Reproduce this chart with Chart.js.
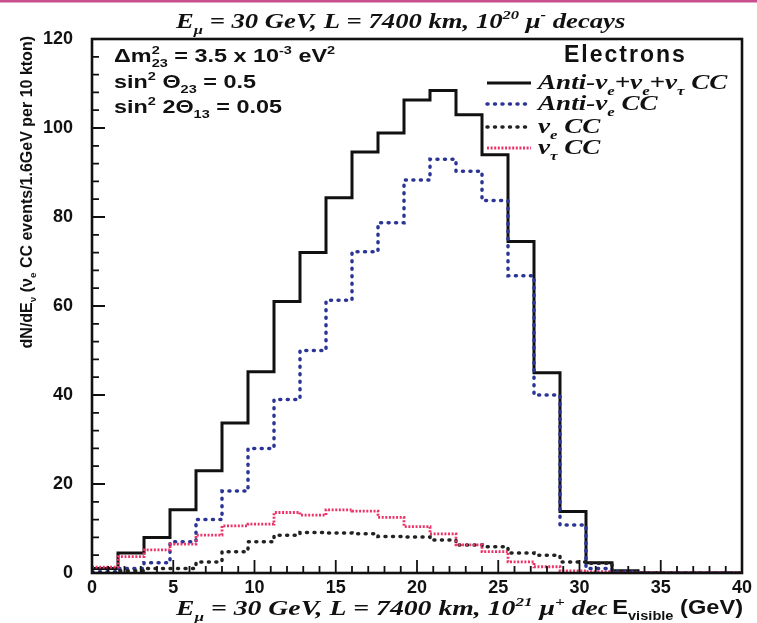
<!DOCTYPE html>
<html>
<head>
<meta charset="utf-8">
<script src="https://cdn.jsdelivr.net/npm/chart.js@4.4.1/dist/chart.umd.min.js"></script>
<style>
  html, body { margin: 0; padding: 0; background: #fff; }
  #wrap { width: 757px; height: 623px; position: relative; }
</style>
</head>
<body>
<div id="wrap"><canvas id="spectrum" width="757" height="623"></canvas></div>
<script>
// Bin low edges (GeV), 1.6 GeV bins
const binLow = [0, 1.6, 3.2, 4.8, 6.4, 8.0, 9.6, 11.2, 12.8, 14.4, 16.0, 17.6, 19.2,
  20.8, 22.4, 24.0, 25.6, 27.2, 28.8, 30.4, 32.0, 33.6, 35.2, 36.8, 38.4];
const binEnd = 40;

// Events per bin
const totalCC = [1, 4.5, 8, 14.2, 23, 33.7, 45.2, 61, 72, 84.3, 94.6, 98.9, 106.3,
  108.4, 103, 94, 74.5, 45, 13.8, 2.3, 0.5, 0, 0, 0, 0];
const antiNueCC = [0.3, 1, 2.3, 7, 12, 18.4, 28, 39, 50, 61.3, 72.2, 78.7, 88.3,
  93, 90.3, 83.7, 66.8, 40, 10.8, 1, 0.3, 0, 0, 0, 0];
const nueCC = [0, 0.5, 1, 1, 2.5, 4.8, 7, 8.5, 9.1, 9, 8.8, 8.2, 8.1,
  7.4, 6.3, 5.9, 4.5, 4, 2.5, 2.2, 0.3, 0, 0, 0, 0];
const nutauCC = [1.3, 3.7, 5.2, 6.5, 8.5, 10.6, 11, 13.6, 13, 14.2, 13.9, 12.5, 10.4,
  8.8, 6.3, 4.8, 2.5, 1.4, 0.5, 0.3, 0, 0, 0, 0, 0];

const xTicks = [0, 5, 10, 15, 20, 25, 30, 35, 40];
const yTicks = [0, 20, 40, 60, 80, 100, 120];

function histPoints(vals) {
  const pts = binLow.map((x, i) => ({ x: x, y: vals[i] }));
  pts.push({ x: binEnd, y: 0 });
  return pts;
}

const SANS = '"Liberation Sans", Arial, sans-serif';
const SERIF = '"Liberation Serif", "Times New Roman", serif';

// draws text made of parts: ['text', mode] with mode '', 'sub', 'sup' or 'stack' ('sup|sub')
// sx stretches the text horizontally (the scan is wider than the fonts)
function drawRich(ctx, parts, x, y, size, family, style, align, sx = 1) {
  const small = size * 0.62;
  const segs = parts.map(([t, m]) => {
    let w;
    if (m === 'stack') {
      ctx.font = `${style} ${small}px ${family}`;
      const [a, b] = t.split('|');
      w = Math.max(ctx.measureText(a).width, ctx.measureText(b).width);
    } else {
      ctx.font = `${style} ${m ? small : size}px ${family}`;
      w = ctx.measureText(t).width;
    }
    return { t, m, w };
  });
  const total = segs.reduce((s, g) => s + g.w, 0);
  const x0 = align === 'right' ? x - total * sx : align === 'center' ? x - total * sx / 2 : x;
  ctx.save();
  ctx.translate(x0, y);
  ctx.scale(sx, 1);
  ctx.textAlign = 'left';
  ctx.textBaseline = 'alphabetic';
  let cx = 0;
  segs.forEach(g => {
    if (g.m === 'stack') {
      const [a, b] = g.t.split('|');
      ctx.font = `${style} ${small}px ${family}`;
      ctx.fillText(a, cx, -size * 0.42);
      ctx.fillText(b, cx, size * 0.28);
    } else {
      ctx.font = `${style} ${g.m ? small : size}px ${family}`;
      const dy = g.m === 'sub' ? size * 0.28 : g.m === 'sup' ? -size * 0.42 : 0;
      ctx.fillText(g.t, cx, dy);
    }
    cx += g.w;
  });
  ctx.restore();
  return total * sx;
}

const framePlugin = {
  id: 'frame',
  afterDatasetsDraw(chart) {
    const { ctx, chartArea: a, scales } = chart;
    ctx.save();
    ctx.strokeStyle = '#111';
    ctx.lineWidth = 1.8;
    ctx.beginPath();
    // x ticks pointing inward, minor every 1 GeV
    for (let v = 0; v <= 40; v += 1) {
      const px = scales.x.getPixelForValue(v);
      const len = v % 5 === 0 ? 13 : 7;
      ctx.moveTo(px, a.bottom);
      ctx.lineTo(px, a.bottom - len);
    }
    // y ticks, minor every 4
    for (let v = 0; v <= 120; v += 4) {
      const py = scales.y.getPixelForValue(v);
      const len = v % 20 === 0 ? 13 : 7;
      ctx.moveTo(a.left, py);
      ctx.lineTo(a.left + len, py);
    }
    ctx.stroke();
    ctx.lineWidth = 2.6;
    ctx.strokeRect(a.left, a.top, a.right - a.left, a.bottom - a.top);
    ctx.restore();
  },
  afterDraw(chart) {
    const { ctx } = chart;
    ctx.save();
    ctx.fillStyle = '#c8508c';
    ctx.fillRect(0, 0, 757, 2.5);

    ctx.fillStyle = '#111';
    // top and bottom captions
    drawRich(ctx, [['E', ''], ['μ', 'sub'], [' = 30 GeV, L = 7400 km, 10', ''], ['20', 'sup'],
      [' μ', ''], ['-', 'sup'], [' decays', '']], 176, 28, 21, SERIF, 'italic bold', 'left', 1.27);
    drawRich(ctx, [['E', ''], ['μ', 'sub'], [' = 30 GeV, L = 7400 km, 10', ''], ['21', 'sup'],
      [' μ', ''], ['+', 'sup'], [' decays', '']], 176, 615, 21, SERIF, 'italic bold', 'left', 1.32);
    // the axis title is printed over the end of the caption
    ctx.fillStyle = '#fff';
    ctx.fillRect(607, 596, 140, 26);
    ctx.fillStyle = '#111';
    drawRich(ctx, [['E', ''], ['visible', 'sub'], [' (GeV)', '']], 743, 614, 20, SANS, 'bold', 'right', 1.18);

    // y axis title
    ctx.save();
    ctx.translate(32, 36);
    ctx.rotate(-Math.PI / 2);
    drawRich(ctx, [['dN/dE', ''], ['ν', 'sub'], [' (ν', ''], ['e', 'sub'],
      [' CC events/1.6GeV per 10 kton)', '']], 0, 0, 16, SANS, 'bold', 'right');
    ctx.restore();

    // oscillation parameters
    drawRich(ctx, [['Δm', ''], ['2|23', 'stack'], [' = 3.5 x 10', ''], ['-3', 'sup'], [' eV', ''], ['2', 'sup']],
      114, 62, 18, SANS, 'bold', 'left', 1.3);
    drawRich(ctx, [['sin', ''], ['2', 'sup'], [' Θ', ''], ['23', 'sub'], [' = 0.5', '']],
      114, 88, 18, SANS, 'bold', 'left', 1.3);
    drawRich(ctx, [['sin', ''], ['2', 'sup'], [' 2Θ', ''], ['13', 'sub'], [' = 0.05', '']],
      114, 113, 18, SANS, 'bold', 'left', 1.3);

    // legend
    ctx.letterSpacing = '2px';
    drawRich(ctx, [['Electrons', '']], 564, 62, 23, SANS, 'bold', 'left');
    ctx.letterSpacing = '0px';
    const labels = [
      [['Anti-ν', ''], ['e', 'sub'], ['+ν', ''], ['e', 'sub'], ['+ν', ''], ['τ', 'sub'], [' CC', '']],
      [['Anti-ν', ''], ['e', 'sub'], [' CC', '']],
      [['ν', ''], ['e', 'sub'], [' CC', '']],
      [['ν', ''], ['τ', 'sub'], [' CC', '']]
    ];
    const rowY = [83, 104, 127, 148];
    chart.data.datasets.forEach((ds, i) => {
      ctx.save();
      ctx.strokeStyle = ds.borderColor;
      ctx.lineWidth = ds.borderWidth;
      ctx.lineCap = ds.borderCapStyle || 'butt';
      ctx.setLineDash(ds.borderDash || []);
      ctx.beginPath();
      ctx.moveTo(487, rowY[i]);
      ctx.lineTo(531, rowY[i]);
      ctx.stroke();
      ctx.restore();
      ctx.fillStyle = '#111';
      drawRich(ctx, labels[i], 538, rowY[i] + 6, 21, SERIF, 'italic bold', 'left', 1.29);
    });
    ctx.restore();
  }
};

const lineStyles = [
  { label: 'total', vals: totalCC, color: '#111', width: 3, dash: [], cap: 'butt' },
  { label: 'anti-nue', vals: antiNueCC, color: '#2b3595', width: 3.5, dash: [1, 6.5], cap: 'round' },
  { label: 'nue', vals: nueCC, color: '#222', width: 3.5, dash: [1, 6.5], cap: 'round' },
  { label: 'nutau', vals: nutauCC, color: '#ec3468', width: 2.8, dash: [2, 1.6], cap: 'butt' }
];

new Chart(document.getElementById('spectrum'), {
  type: 'line',
  data: {
    datasets: lineStyles.map((s, i) => ({
      label: s.label,
      data: histPoints(s.vals),
      stepped: 'before',
      borderColor: s.color,
      borderWidth: s.width,
      borderDash: s.dash,
      borderCapStyle: s.cap,
      pointRadius: 0,
      fill: false,
      order: lineStyles.length - i
    }))
  },
  options: {
    responsive: false,
    animation: false,
    devicePixelRatio: 1,
    layout: { padding: { top: 39, right: 15, left: 0, bottom: 0 } },
    plugins: { legend: { display: false }, tooltip: { enabled: false } },
    scales: {
      x: {
        type: 'linear',
        min: 0, max: 40,
        afterBuildTicks: s => { s.ticks = xTicks.map(v => ({ value: v })); },
        ticks: { color: '#111', font: { family: SANS, size: 18, weight: 'bold' }, padding: 4, maxRotation: 0 },
        grid: { display: false, drawTicks: false },
        border: { display: false },
        afterFit: s => { s.height = 50; }
      },
      y: {
        min: 0, max: 120,
        afterBuildTicks: s => { s.ticks = yTicks.map(v => ({ value: v })); },
        ticks: { color: '#111', font: { family: SANS, size: 18, weight: 'bold' }, padding: 19 },
        grid: { display: false, drawTicks: false },
        border: { display: false },
        afterFit: s => { s.width = 92; }
      }
    }
  },
  plugins: [framePlugin]
});
</script>
</body>
</html>
